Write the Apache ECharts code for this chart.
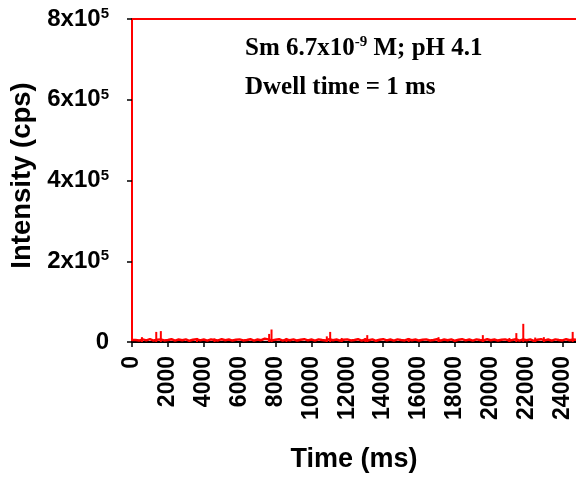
<!DOCTYPE html>
<html>
<head>
<meta charset="utf-8">
<script src="https://cdn.jsdelivr.net/npm/echarts@6/dist/echarts.min.js"></script>
<style>
  html, body { margin: 0; padding: 0; background: #fff; }
  #chart { width: 576px; height: 480px; }
</style>
</head>
<body>
<div id="chart"></div>
<script>
// baseline noise, one reading every 200 ms (cps)
const baseStart = 0;
const baseStep = 200;
const baseCounts = [
  5000, 5000, 3500, 6500, 4000, 7000, 3500, 5500, 6500, 4000,
  5000, 7000, 3500, 6000, 4500, 6500, 3000, 5500, 7000, 4000,
  6000, 3500, 6500, 5000, 4000, 7000, 4500, 6000, 3500, 5500,
  6500, 4000, 5000, 7000, 3500, 6000, 4500, 8000, 6500, 4000,
  5500, 7000, 3500, 6000, 4500, 6500, 3500, 5500, 7000, 4000,
  6000, 3500, 6500, 5000, 4000, 7000, 4500, 6000, 3500, 5500,
  6500, 4000, 5000, 7000, 3500, 6000, 4500, 6500, 3000, 5500,
  7000, 4000, 6000, 3500, 6500, 5000, 4000, 7000, 4500, 6000,
  3500, 5500, 6500, 4000, 5000, 7000, 3500, 6000, 4500, 6500,
  3000, 5500, 7000, 4000, 6000, 3500, 6500, 5000, 4000, 7000,
  4500, 6000, 3500, 5500, 6500, 4000, 5000, 7000, 3500, 6000,
  4500, 6500, 3000, 5500, 7000, 4000, 6000, 3500, 6500, 5000,
  4000, 7000, 4500, 6000, 5500
];

// isolated spikes
const spikeTimes = [554, 1352, 1607, 3623, 4600, 7645, 7778, 8609, 10859, 11047,
  11690, 13003, 13114, 15424, 17086, 19557, 21036, 21424, 21811, 22476, 22958, 24565];
const spikeCounts = [12000, 25000, 27000, 10000, 9000, 20000, 31000, 10000, 14000, 25000,
  10000, 10000, 17000, 10000, 12000, 17000, 10000, 22000, 45000, 11000, 12000, 25000];

const baseData = baseCounts.map((v, i) => [baseStart + i * baseStep, v]);
const spikeData = spikeTimes.map((t, i) => [t, spikeCounts[i]]);

const chart = echarts.init(document.getElementById('chart'));

const sansBold = { fontFamily: 'Liberation Sans', fontWeight: 'bold', color: '#000' };

chart.setOption({
  animation: false,
  grid: { left: 129, right: 0, top: 19, bottom: 138 },
  xAxis: [
    {
      type: 'value',
      min: 0,
      max: 24750,
      interval: 2000,
      name: 'Time (ms)',
      nameLocation: 'middle',
      nameGap: 104,
      nameTextStyle: Object.assign({ fontSize: 27 }, sansBold),
      splitLine: { show: false },
      axisLine: { onZero: false, lineStyle: { color: '#000', width: 2 } },
      axisTick: { length: 5, lineStyle: { color: '#000', width: 1.5 } },
      axisLabel: Object.assign({
        fontSize: 23, rotate: 90, margin: 14, showMaxLabel: false,
        formatter: function (v) { return String(v); }
      }, sansBold)
    },
    {
      type: 'value',
      position: 'top',
      min: 0,
      max: 24750,
      axisLine: { show: true, onZero: false, lineStyle: { color: '#ff0000', width: 2 } },
      axisTick: { show: false },
      axisLabel: { show: false },
      splitLine: { show: false }
    }
  ],
  yAxis: {
    type: 'value',
    min: 0,
    max: 800000,
    interval: 200000,
    name: 'Intensity (cps)',
    nameLocation: 'middle',
    nameGap: 96,
    nameTextStyle: Object.assign({ fontSize: 27.5, padding: [0, 0, 0, 10] }, sansBold),
    splitLine: { show: false },
    axisLine: { show: true, onZero: false, lineStyle: { color: '#ff0000', width: 2 } },
    axisTick: { show: true, length: 5, lineStyle: { color: '#000', width: 1.5 } },
    axisLabel: {
      margin: 23,
      formatter: function (v) {
        if (v === 0) return '{a|0}';
        return '{a|' + (v / 100000) + 'x10}{s|5}';
      },
      rich: {
        a: Object.assign({ fontSize: 24 }, sansBold),
        s: Object.assign({ fontSize: 15, padding: [0, 0, 10, 0] }, sansBold)
      }
    }
  },
  series: [
    {
      type: 'line',
      data: baseData,
      symbol: 'none',
      clip: true,
      lineStyle: { color: '#ff0000', width: 2.5 }
    },
    {
      type: 'bar',
      data: spikeData,
      barWidth: 2,
      itemStyle: { color: '#ff0000' }
    }
  ],
  graphic: [
    {
      type: 'text',
      left: 245,
      top: 35,
      style: {
        text: '{t|Sm 6.7x10}{u|-9}{t| M; pH 4.1}',
        rich: {
          t: { fontFamily: 'Liberation Serif', fontWeight: 'bold', fontSize: 25, fill: '#000' },
          u: { fontFamily: 'Liberation Serif', fontWeight: 'bold', fontSize: 15, fill: '#000', padding: [0, 0, 12, 0] }
        }
      }
    },
    {
      type: 'text',
      left: 245,
      top: 75,
      style: {
        text: 'Dwell time = 1 ms',
        font: 'bold 25px "Liberation Serif"',
        fill: '#000'
      }
    }
  ]
});
</script>
</body>
</html>
